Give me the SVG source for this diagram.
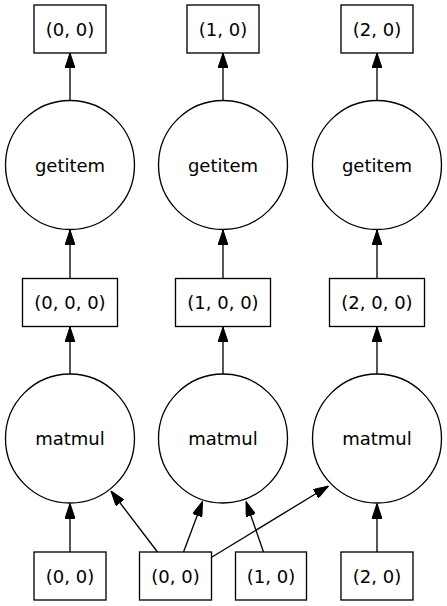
<svg xmlns="http://www.w3.org/2000/svg" width="447" height="606" viewBox="0 0 447 606">
<defs>
<marker id="ah" viewBox="0 0 15 10" refX="15" refY="5" markerWidth="15" markerHeight="10" markerUnits="userSpaceOnUse" orient="auto">
<path d="M0,0 L15,5 L0,10 Z" fill="#000" stroke="#000" stroke-width="1"/>
</marker>
</defs>
<style>
.n{fill:#fff;stroke:#000;stroke-width:1.33}
.t{font-family:"DejaVu Sans",sans-serif;font-size:18px;text-anchor:middle;fill:#000}
.e{stroke:#000;stroke-width:1.33;fill:none;marker-end:url(#ah)}
</style>
<rect width="447" height="606" fill="#fff"/>
<g id="edges">
<line class="e" x1="70" y1="100.5" x2="70" y2="53"/>
<line class="e" x1="223" y1="100.5" x2="223" y2="53"/>
<line class="e" x1="377" y1="100.5" x2="377" y2="53"/>
<line class="e" x1="70" y1="374" x2="70" y2="327"/>
<line class="e" x1="223" y1="374" x2="223" y2="327"/>
<line class="e" x1="377" y1="374" x2="377" y2="327"/>
<line class="e" x1="70" y1="278.5" x2="70" y2="230"/>
<line class="e" x1="223" y1="278.5" x2="223" y2="230"/>
<line class="e" x1="377" y1="278.5" x2="377" y2="230"/>
<line class="e" x1="70" y1="552" x2="70" y2="503.5"/>
<line class="e" x1="377" y1="552" x2="377" y2="503.5"/>
<line class="e" x1="157.5" y1="552" x2="111" y2="491"/>
<line class="e" x1="183.5" y1="552" x2="202.5" y2="501.5"/>
<line class="e" x1="212" y1="557" x2="328.5" y2="486"/>
<line class="e" x1="263.5" y1="552" x2="246" y2="501.5"/>
</g>
<g id="n_top0"><rect class="n" x="34" y="5" width="72" height="48"/><text class="t" x="70" y="35.5">(0, 0)</text></g>
<g id="n_top1"><rect class="n" x="187" y="5" width="72" height="48"/><text class="t" x="223" y="35.5">(1, 0)</text></g>
<g id="n_top2"><rect class="n" x="341" y="5" width="72" height="48"/><text class="t" x="377" y="35.5">(2, 0)</text></g>
<g id="n_get0"><circle class="n" cx="70" cy="165" r="64.5"/><text class="t" x="70" y="171.5">getitem</text></g>
<g id="n_get1"><circle class="n" cx="223" cy="165" r="64.5"/><text class="t" x="223" y="171.5">getitem</text></g>
<g id="n_get2"><circle class="n" cx="377" cy="165" r="64.5"/><text class="t" x="377" y="171.5">getitem</text></g>
<g id="n_mid0"><rect class="n" x="22.5" y="278.5" width="95" height="48"/><text class="t" x="70" y="309">(0, 0, 0)</text></g>
<g id="n_mid1"><rect class="n" x="175.5" y="278.5" width="95" height="48"/><text class="t" x="223" y="309">(1, 0, 0)</text></g>
<g id="n_mid2"><rect class="n" x="329.5" y="278.5" width="95" height="48"/><text class="t" x="377" y="309">(2, 0, 0)</text></g>
<g id="n_mm0"><circle class="n" cx="70" cy="438.5" r="64.5"/><text class="t" x="70" y="445">matmul</text></g>
<g id="n_mm1"><circle class="n" cx="223" cy="438.5" r="64.5"/><text class="t" x="223" y="445">matmul</text></g>
<g id="n_mm2"><circle class="n" cx="377" cy="438.5" r="64.5"/><text class="t" x="377" y="445">matmul</text></g>
<g id="n_b0"><rect class="n" x="34" y="552" width="72" height="48"/><text class="t" x="70" y="582.5">(0, 0)</text></g>
<g id="n_b1"><rect class="n" x="139.5" y="552" width="72" height="48"/><text class="t" x="175.5" y="582.5">(0, 0)</text></g>
<g id="n_b2"><rect class="n" x="235.5" y="552" width="71" height="48"/><text class="t" x="271" y="582.5">(1, 0)</text></g>
<g id="n_b3"><rect class="n" x="341" y="552" width="72" height="48"/><text class="t" x="377" y="582.5">(2, 0)</text></g>
</svg>
